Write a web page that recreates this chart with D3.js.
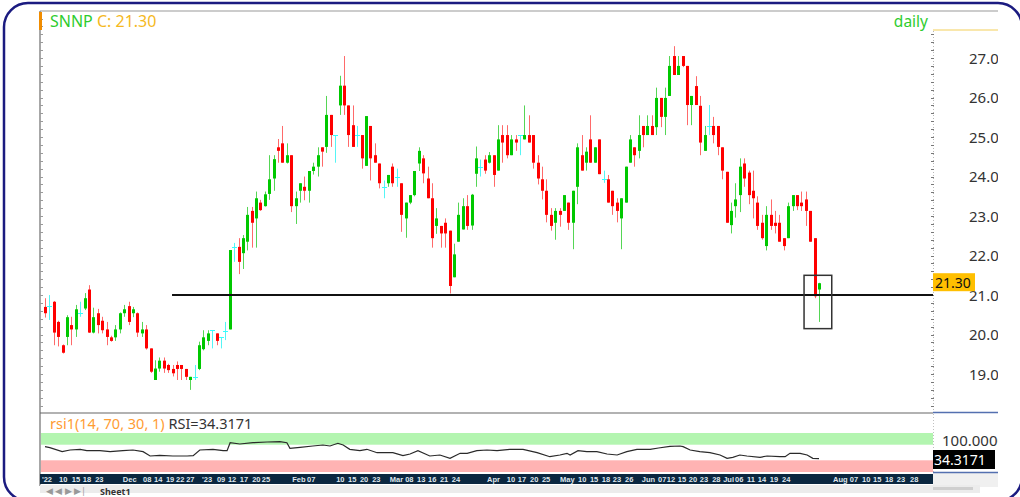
<!DOCTYPE html>
<html>
<head>
<meta charset="utf-8">
<script src="https://cdnjs.cloudflare.com/ajax/libs/d3/7.8.5/d3.min.js"></script>
<style>
  html, body { margin: 0; padding: 0; background: #fff; }
  svg { display: block; font-family: "Noto Sans", "Open Sans", sans-serif; }
</style>
</head>
<body>
<div id="chart"></div>
<script>
// ---------------------------
// SNNP daily candles + RSI panel
// ---------------------------

const symbol = 'SNNP';
const lastClose = '21.30';
const rsiText = '34.3171';

// OHLC, one entry per trading day (oldest first)
const opens = [20.70,20.72,20.83,20.32,19.73,19.94,20.24,20.13,20.54,20.66,21.14,20.05,20.54,20.35,20.13,19.93,19.93,20.13,20.54,20.72,20.54,20.54,20.03,20.13,19.65,18.85,19.14,19.34,19.23,19.13,19.23,19.23,19.13,18.85,18.93,19.13,19.63,19.84,20.11,20.03,19.93,20.10,20.13,22.22,22.22,22.06,22.35,23.13,22.94,23.34,23.25,23.56,23.95,24.74,24.84,24.35,24.54,23.25,23.64,23.74,23.64,24.14,24.25,24.74,24.75,25.56,25.05,25.80,26.30,25.80,25.30,25.05,25.05,24.27,25.28,24.54,24.33,23.74,23.83,24.25,24.00,23.83,22.94,23.34,23.53,24.33,24.46,23.95,23.45,22.75,22.75,22.83,22.63,21.45,22.35,22.66,23.25,22.76,24.07,24.25,24.43,24.35,24.54,24.15,25.05,25.05,24.54,24.94,25.05,24.94,25.05,25.05,24.35,23.93,23.64,23.03,22.83,23.13,23.13,23.34,22.83,23.74,24.54,24.35,24.94,24.35,24.94,23.93,23.93,23.64,23.34,22.94,23.34,24.35,24.74,24.65,25.28,25.05,25.28,25.25,25.99,25.51,26.04,27.05,26.57,27.05,26.80,25.81,26.29,25.79,24.65,25.28,25.28,25.28,24.74,24.12,22.77,23.25,23.53,24.33,24.10,23.64,23.34,22.83,22.24,23.03,22.83,22.83,22.44,22.44,23.25,23.53,23.34,23.42,23.13,22.44,21.14];
const highs = [20.92,21.00,20.85,20.35,19.75,20.49,20.45,20.75,20.83,21.05,21.25,20.68,20.65,20.45,20.32,19.97,20.24,20.56,20.75,20.83,20.70,20.56,20.32,20.24,19.65,19.35,19.42,19.42,19.26,19.23,19.32,19.23,19.13,18.93,19.23,19.82,20.11,20.11,20.11,20.03,19.93,20.32,22.14,22.32,22.44,22.52,23.23,23.23,23.62,23.41,23.62,24.54,24.54,24.95,25.28,24.84,24.54,23.62,23.83,24.00,24.14,24.35,24.74,24.74,26.04,25.56,25.05,26.55,27.05,25.80,25.80,25.28,25.05,25.53,25.28,24.84,24.33,23.90,24.04,24.33,24.20,23.83,23.34,23.53,24.14,24.74,24.54,24.25,23.83,23.20,22.75,22.94,22.63,22.30,23.34,23.45,23.53,23.56,24.76,24.43,24.54,24.62,24.54,25.30,25.30,25.30,25.05,25.05,25.05,25.80,25.55,25.05,24.54,24.25,23.93,23.20,23.20,23.20,23.53,23.34,23.64,24.84,25.05,24.74,25.55,24.74,24.94,24.15,24.04,23.64,23.45,23.45,24.25,25.05,24.74,25.55,25.28,25.55,25.55,26.25,25.99,26.25,27.05,27.30,27.05,27.05,26.80,26.04,26.54,26.04,25.28,25.81,25.51,25.28,24.74,24.12,23.34,23.83,24.46,24.46,24.15,24.15,23.50,23.03,23.25,23.42,23.13,23.03,22.44,23.34,23.53,23.53,23.62,23.62,23.13,22.44,21.31];
const lows = [20.43,20.37,19.73,19.70,19.52,19.73,19.73,19.94,20.45,20.62,20.04,20.03,20.03,20.03,19.73,19.82,19.84,20.03,20.45,20.24,20.44,19.94,19.94,19.62,19.03,18.85,19.06,19.03,19.03,18.94,18.85,18.85,18.85,18.60,18.85,19.10,19.60,19.73,19.65,19.73,19.65,19.86,20.13,21.84,21.53,21.66,22.13,22.20,22.20,23.13,23.24,23.41,23.64,24.35,24.35,24.33,23.10,22.80,23.34,23.40,23.34,24.05,24.00,24.25,24.60,24.75,24.35,25.56,25.56,24.75,24.75,24.75,24.20,24.27,23.90,24.35,23.70,23.45,23.74,23.74,23.74,22.60,22.45,23.30,23.50,24.14,23.83,23.45,22.20,22.55,22.20,22.20,21.04,21.45,22.35,22.66,22.65,22.65,23.74,24.00,24.07,24.33,23.74,24.15,24.35,24.46,24.54,24.65,24.54,24.94,24.86,24.20,23.80,23.42,22.84,22.63,22.40,22.73,23.13,22.65,22.16,23.30,24.15,24.15,24.35,24.35,24.06,23.84,23.34,23.03,22.84,22.16,23.34,24.35,24.25,24.46,24.74,25.05,25.05,25.05,25.25,25.05,26.04,26.57,26.57,26.77,25.30,25.30,25.81,24.54,24.65,25.05,24.84,24.54,23.93,22.83,22.56,22.96,23.10,23.74,23.30,22.94,22.65,22.40,22.13,22.65,22.56,22.35,22.13,22.44,23.13,23.15,23.13,22.75,22.35,20.92,20.32];
const closes = [20.54,20.72,20.05,19.94,19.54,20.44,20.13,20.64,20.54,20.92,20.05,20.44,20.24,20.11,19.94,19.84,20.13,20.54,20.64,20.32,20.64,20.05,20.13,19.65,19.06,19.14,19.34,19.14,19.10,19.02,19.13,19.13,18.93,18.93,18.93,19.73,19.93,20.03,20.11,19.84,19.93,20.10,22.14,22.22,21.84,22.44,23.03,22.83,23.45,23.15,23.55,23.93,24.44,24.65,24.35,24.54,23.25,23.45,23.83,23.64,24.14,24.25,24.54,24.63,25.56,25.05,25.05,26.30,25.80,25.05,24.75,25.05,24.46,25.53,24.46,24.35,23.83,23.74,24.04,23.83,24.00,23.03,23.34,23.53,24.14,24.65,24.08,23.45,22.44,22.94,22.56,22.56,21.23,22.03,23.03,23.25,22.75,23.54,24.46,24.25,24.15,24.54,24.04,24.94,24.86,24.54,24.94,24.86,25.05,25.05,24.86,24.35,23.95,23.64,23.03,22.75,23.13,23.03,23.53,22.83,23.64,24.74,24.15,24.63,24.35,24.74,24.06,23.93,23.34,23.25,23.13,23.45,24.25,24.94,24.54,25.05,25.05,25.28,25.05,25.99,25.51,25.99,26.80,26.57,26.80,26.80,25.81,26.04,25.81,24.86,25.05,25.28,25.05,24.75,24.15,22.83,23.13,23.42,24.25,23.95,23.53,23.45,22.75,22.44,23.03,22.75,22.75,22.35,22.24,23.25,23.53,23.25,23.25,23.13,22.35,20.97,21.30];

// RSI(14) line (candle index, value)
const rsiIdx = [0,1.1,3.9,5.7,8,9.5,12.5,14.8,17.7,20,22.3,23.9,26.1,29.1,32.3,33.7,35.2,38.2,40.5,41.4,42.1,44.3,47.3,50.5,53.4,55,55.7,58,60.9,63.2,64.8,66.6,67.8,69.3,71.6,73.2,75.5,79.1,81.4,83,84.8,87.5,89.8,92.1,94.4,96,98.2,100.5,102.8,105.7,108.7,111.9,114.8,117.1,118.7,119.4,121.2,123.2,125.5,127.8,130.1,132.3,134.6,137.6,139.5,142.1,144.4,145.1,146.7,148.9,151.2,153.5,155.1,156.4,158,159.6,162.6,164.2,167.1,168.3,169.4,171.7,173.3,174.6,176];
const rsiVal = [64.9,62.3,52.1,56.4,58.2,54.6,54.6,52.1,54.6,56.4,52.1,41,42.8,41,41,41.8,56.4,58.2,54.6,54.6,75.1,71.8,75.1,76.9,77.7,75.1,60.8,63.3,66.7,69.2,66.7,73.6,69.2,58.2,54.6,58.2,49.5,49.5,41.8,46.2,54.6,41,43.6,35.1,47.9,47.9,54.6,56.4,54.6,58.2,58.2,49.5,39.2,43.6,47.9,43.6,54.6,52.1,52.1,46.2,43.6,52.1,58.2,58.2,61.5,65.8,66.7,64.9,56.4,52.1,49.5,43.6,35.1,37.7,43.6,41,37.7,41,39.2,39.2,47.9,47.9,43.6,35.1,34.3];

// date axis labels and the slot they start at
const dateLabels = ["'22","10","15","18","23","Dec","08","14","19","22","27","'23","09","12","17","20","25","Feb","07","10","15","20","23","Mar","08","13","16","21","24","Apr","10","17","20","25","May","10","15","18","23","26","Jun","07","12","15","20","23","28","Jul","06","11","14","19","24","Aug","07","10","15","18","23","28"];
const dateSlots = [-0.7,3.2,6.1,8.6,11.4,17.7,22.3,24.8,27.5,29.8,32.1,35.7,39.1,41.6,44.3,47.1,49.3,56.2,59.6,66.2,68.9,71.6,74.4,78.4,81.9,84.6,87.1,89.8,92.5,100.5,105.0,107.5,110.3,113.0,117.1,121.2,123.9,126.6,129.1,131.9,135.7,139.4,141.4,143.9,146.4,148.9,151.7,154.2,156.9,159.6,162.1,164.8,167.6,179.2,183.0,185.8,188.3,191.0,193.7,196.7];

const priceTicks = [19, 20, 21, 22, 23, 24, 25, 26, 27];

// support line and the highlight box
const supportLevel = 21.0;
const supportFrom = 29;
const boxFrom = 172.6, boxTo = 178.9, boxHi = 21.5, boxLo = 20.15;

// ---------------------------
const W = 1020, H = 497;
const left = 40, right = 933, axisEnd = 998;
const priceTop = 11, priceBottom = 412;
const rsiTop = 433, rsiBottom = 472;

const svg = d3.select('#chart').append('svg')
    .attr('width', W).attr('height', H);

const x = d3.scaleLinear().domain([0, closes.length - 1]).range([45, 819]);
const y = d3.scaleLinear().domain([18.04, 28.19]).range([priceBottom, priceTop]);
const yr = d3.scaleLinear().domain([0, 100]).range([rsiBottom, rsiTop]);

svg.append('defs').append('clipPath').attr('id', 'axisClip')
    .append('rect').attr('x', right).attr('y', 0).attr('width', axisEnd - right).attr('height', H);

// frame lines
svg.append('line').attr('x1', left).attr('x2', axisEnd).attr('y1', priceTop).attr('y2', priceTop)
    .attr('stroke', '#9a9a9a').attr('stroke-width', 1.2);
svg.append('line').attr('x1', left).attr('x2', left).attr('y1', priceTop).attr('y2', 486)
    .attr('stroke', '#8a8a8a').attr('stroke-width', 1.5);
svg.append('line').attr('x1', left).attr('x2', right).attr('y1', 413).attr('y2', 413)
    .attr('stroke', '#666').attr('stroke-width', 1.2);
svg.append('line').attr('x1', right).attr('x2', axisEnd).attr('y1', 412.5).attr('y2', 412.5)
    .attr('stroke', '#5470b0').attr('stroke-width', 1.5);
svg.append('line').attr('x1', right).attr('x2', axisEnd).attr('y1', 30).attr('y2', 30)
    .attr('stroke', '#f3cf5a').attr('stroke-width', 1.2);

// left minor ticks
const minor = d3.range(18.2, 28.1, 0.2);
svg.append('g').selectAll('line').data(minor).join('line')
    .attr('x1', left).attr('x2', left + 3)
    .attr('y1', d => Math.round(y(d)) + 0.5).attr('y2', d => Math.round(y(d)) + 0.5)
    .attr('stroke', '#9a9a9a');

// right dotted axis
svg.append('line').attr('x1', right + 0.5).attr('x2', right + 0.5).attr('y1', 31).attr('y2', priceBottom)
    .attr('stroke', '#b8b8b8').attr('stroke-dasharray', '1,2');
svg.append('g').selectAll('line').data(minor.filter(d => y(d) > 32)).join('line')
    .attr('x1', right - 2).attr('x2', right + 1)
    .attr('y1', d => Math.round(y(d)) + 0.5).attr('y2', d => Math.round(y(d)) + 0.5)
    .attr('stroke', '#777');

// price labels (clipped at the panel edge like the original)
svg.append('g').attr('clip-path', 'url(#axisClip)')
    .selectAll('text').data(priceTicks).join('text')
    .attr('x', 969).attr('y', d => y(d) + 5.5)
    .attr('font-size', 15).attr('fill', '#333')
    .text(d => d.toFixed(2));

// title
const title = svg.append('text').attr('x', 50).attr('y', 27).attr('font-size', 16);
title.append('tspan').attr('fill', '#2ecc2e').text(symbol + ' ');
title.append('tspan').attr('fill', '#f5b91e').text('C: ' + lastClose);
svg.append('rect').attr('x', 39).attr('y', 12).attr('width', 3).attr('height', 18).attr('fill', '#f08c00');
svg.append('text').attr('x', 928).attr('y', 27).attr('text-anchor', 'end')
    .attr('font-size', 15.5).attr('fill', '#2ecc2e').text('daily');

// candles
const data = closes.map((c, i) => ({ i, o: opens[i], h: highs[i], l: lows[i], c }));
const bodyCol = d => d.c > d.o ? '#00c800' : (d.c < d.o ? '#ff0000' : '#33ffff');
const wickCol = d => d.c > d.o ? '#55d655' : (d.c < d.o ? '#ff6a6a' : '#55f5f5');

const candle = svg.append('g').selectAll('g').data(data).join('g');
candle.append('line')
    .attr('x1', d => Math.round(x(d.i)) + 0.5).attr('x2', d => Math.round(x(d.i)) + 0.5)
    .attr('y1', d => y(d.h)).attr('y2', d => y(d.l))
    .attr('stroke', wickCol).attr('stroke-width', 1);
candle.filter(d => d.o !== d.c).append('rect')
    .attr('x', d => Math.round(x(d.i)) - 1)
    .attr('y', d => y(Math.max(d.o, d.c)))
    .attr('width', 3)
    .attr('height', d => Math.max(1, Math.abs(y(d.o) - y(d.c))))
    .attr('fill', bodyCol);
candle.filter(d => d.o === d.c).append('line')
    .attr('x1', d => Math.round(x(d.i)) - 2).attr('x2', d => Math.round(x(d.i)) + 3)
    .attr('y1', d => Math.round(y(d.c)) + 0.5).attr('y2', d => Math.round(y(d.c)) + 0.5)
    .attr('stroke', '#33ffff').attr('stroke-width', 1);

// support line
svg.append('line')
    .attr('x1', x(supportFrom) - 0.5).attr('x2', right)
    .attr('y1', y(supportLevel)).attr('y2', y(supportLevel))
    .attr('stroke', '#111').attr('stroke-width', 2);

// highlight box
svg.append('rect')
    .attr('x', x(boxFrom)).attr('y', y(boxHi))
    .attr('width', x(boxTo) - x(boxFrom)).attr('height', y(boxLo) - y(boxHi))
    .attr('fill', 'none').attr('stroke', '#333').attr('stroke-width', 1.5);

// last price tag
svg.append('rect').attr('x', right).attr('y', y(+lastClose) - 10).attr('width', 42).attr('height', 18)
    .attr('fill', '#ffbf00');
svg.append('text').attr('x', right + 2).attr('y', y(+lastClose) + 4.5)
    .attr('font-size', 14).attr('fill', '#111').text(lastClose);

// ---- RSI panel ----
svg.append('rect').attr('x', left + 1).attr('y', yr(100)).attr('width', right - left - 1)
    .attr('height', yr(70) - yr(100)).attr('fill', '#b3f5b0');
svg.append('rect').attr('x', left + 1).attr('y', yr(30)).attr('width', right - left - 1)
    .attr('height', yr(0) - yr(30)).attr('fill', '#ffb3b3');
svg.append('line').attr('x1', right + 0.5).attr('x2', right + 0.5).attr('y1', 414).attr('y2', rsiBottom)
    .attr('stroke', '#c0c0c0').attr('stroke-dasharray', '1,2');

const rsiLine = d3.line().x(d => x(d[0])).y(d => yr(d[1]));
svg.append('path').datum(rsiIdx.map((d, k) => [d, rsiVal[k]]))
    .attr('d', rsiLine).attr('fill', 'none')
    .attr('stroke', '#2a2a2a').attr('stroke-width', 1.2);

const rt = svg.append('text').attr('x', 50).attr('y', 429).attr('font-size', 14.5);
rt.append('tspan').attr('fill', '#ff9c33').text('rsi1(14, 70, 30, 1) ');
rt.append('tspan').attr('fill', '#333').text('RSI=' + rsiText);

svg.append('text').attr('clip-path', 'url(#axisClip)')
    .attr('x', 942).attr('y', 446).attr('font-size', 15).attr('fill', '#333').text('100.0000');
svg.append('rect').attr('x', right).attr('y', 450).attr('width', 62).attr('height', 19).attr('fill', '#000');
svg.append('text').attr('x', right + 1).attr('y', 464.5).attr('font-size', 14).attr('fill', '#fff').text(rsiText);

// ---- date axis ----
svg.append('rect').attr('x', left).attr('y', 474).attr('width', right - left).attr('height', 10).attr('fill', '#0b2740');
svg.append('rect').attr('x', right).attr('y', 473).attr('width', axisEnd - right).attr('height', 14).attr('fill', '#f0f0f0');
svg.append('line').attr('x1', right).attr('x2', axisEnd).attr('y1', 472.5).attr('y2', 472.5)
    .attr('stroke', '#5470b0').attr('stroke-width', 1.5);
svg.append('g').selectAll('text').data(dateLabels).join('text')
    .attr('x', (d, k) => x(dateSlots[k])).attr('y', 482)
    .attr('font-family', '"Liberation Sans", Arial, sans-serif')
    .attr('font-size', 7.5).attr('font-weight', 700).attr('fill', '#dfe6ee')
    .text(d => d);

// sheet tab strip
svg.append('rect').attr('x', left).attr('y', 485).attr('width', 940).attr('height', 8).attr('fill', '#ececec');
svg.append('text').attr('x', 46).attr('y', 494).attr('font-size', 9).attr('fill', '#999').text('◀ ◀ ▶ ▶|');
svg.append('text').attr('x', 100).attr('y', 495).attr('font-size', 9).attr('font-weight', 700).attr('fill', '#333').text('Sheet1');
svg.append('rect').attr('x', 933).attr('y', 487).attr('width', 40).attr('height', 3).attr('fill', '#cfcfcf');

// outer rounded frame
svg.append('rect').attr('x', 4).attr('y', 3).attr('width', 1018).attr('height', 498).attr('rx', 24)
    .attr('fill', 'none').attr('stroke', '#1b1b80').attr('stroke-width', 2.5);
</script>
</body>
</html>
